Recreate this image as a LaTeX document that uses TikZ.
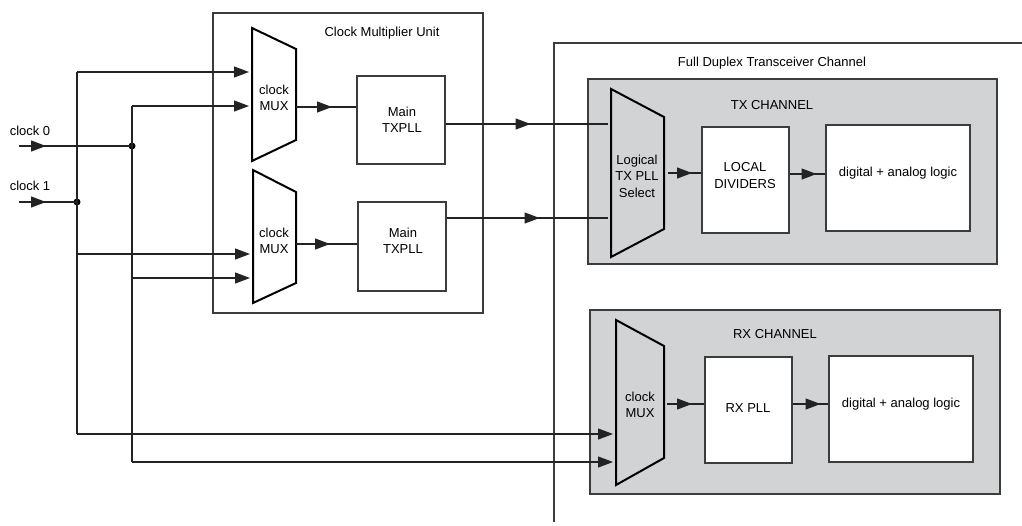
\documentclass[tikz,border=0pt]{standalone}
\usepackage{fontspec}
\setmainfont{Liberation Sans}
\usetikzlibrary{arrows.meta,decorations.markings,calc}
\definecolor{chgray}{RGB}{210,211,213}
\definecolor{boxc}{RGB}{60,60,60}
\definecolor{linec}{RGB}{35,35,35}
\tikzset{
  tip/.tip={Triangle[length=15pt,width=11pt]},
  box/.style={draw=boxc,line width=1.1pt,fill=white,inner sep=0pt,align=center},
  chan/.style={draw=boxc,line width=1.1pt,fill=chgray},
  muxshape/.style={draw=black,line width=2pt,line join=miter},
  lbl/.style={font=\fontsize{13}{16.5}\selectfont,align=center,inner sep=0pt},
  wire/.style={draw=linec,line width=1.2pt},
  arr/.style={wire,-{tip}},
  midarr/.style={wire,postaction={decorate},decoration={markings,mark=at position #1 with {\arrow{tip}}}},
  jdot/.style={circle,fill=black,inner sep=0pt,minimum size=7pt},
}
\begin{document}
\begin{tikzpicture}[x=1pt,y=-1pt]
\useasboundingbox (0,0) rectangle (1022,525);
\fill[white] (0,0) rectangle (1022,525);

% outer frames
\node[draw=boxc,line width=1.1pt,minimum width=270pt,minimum height=300pt,inner sep=0pt] (cmu) at (348,163) {};
\node[lbl] (cmut) at (382,33) {Clock Multiplier Unit};
\coordinate (fdtl) at (554,522);
\coordinate (fdtc) at (554,43);
\coordinate (fdtr) at (1022,43);
\draw[draw=boxc,line width=1.1pt] (fdtl) -- (fdtc) -- (fdtr);
\node[lbl] (fdtt) at (772,63) {Full Duplex Transceiver Channel};

% channels
\node[chan,minimum width=409pt,minimum height=185pt,inner sep=0pt] (txch) at (792.5,171.5) {};
\node[lbl] (txt) at (772,105) {TX CHANNEL};
\node[chan,minimum width=410pt,minimum height=184pt,inner sep=0pt] (rxch) at (795,402) {};
\node[lbl] (rxt) at (775,334) {RX CHANNEL};

% muxes
\draw[muxshape,fill=white] (252,28) -- (296,49) -- (296,140) -- (252,161) -- cycle;
\node[lbl] (m1) at (274,98) {clock\\MUX};
\draw[muxshape,fill=white] (253,170) -- (296,192) -- (296,283) -- (253,303) -- cycle;
\node[lbl] (m2) at (274,241) {clock\\MUX};
\draw[muxshape,fill=chgray] (611,89) -- (664,117) -- (664,229) -- (611,257) -- cycle;
\node[lbl] (sel) at (637,176) {Logical\\TX PLL\\Select};
\draw[muxshape,fill=chgray] (616,320) -- (664,346) -- (664,458) -- (616,485) -- cycle;
\node[lbl] (rxm) at (640,405) {clock\\MUX};

% boxes
\node[box,minimum width=88pt,minimum height=88pt] (pll1) at (401,120) {};
\node[lbl] (pll1t) at (402,120) {Main\\TXPLL};
\node[box,minimum width=88pt,minimum height=89pt] (pll2) at (402,246.5) {};
\node[lbl] (pll2t) at (403,241) {Main\\TXPLL};
\node[box,minimum width=87pt,minimum height=106pt] (div) at (745.5,180) {};
\node[lbl] (divt) at (745,175.5) {LOCAL\\DIVIDERS};
\node[box,minimum width=144pt,minimum height=106pt] (dig1) at (898,178) {};
\node[lbl] (dig1t) at (898,173) {digital + analog logic};
\node[box,minimum width=87pt,minimum height=106pt] (rxpll) at (748.5,410) {};
\node[lbl] (rxpllt) at (748,408) {RX PLL};
\node[box,minimum width=144pt,minimum height=106pt] (dig2) at (901,409) {};
\node[lbl] (dig2t) at (901,404) {digital + analog logic};

% clock inputs
\node[lbl] (c0) at (30,131) {clock 0};
\node[lbl] (c1) at (30,186) {clock 1};
\coordinate (c0s) at (19,146);
\coordinate (c1s) at (19,202);
\node[jdot] (j0) at (132,146) {};
\node[jdot] (j1) at (77,202) {};
\draw[midarr=27pt] (c0s) -- (j0.center);
\draw[midarr=27pt] (c1s) -- (j1.center);

% distribution
\coordinate (a1) at (77,72);
\coordinate (a2) at (77,434);
\coordinate (b1) at (132,106);
\coordinate (b2) at (132,462);
\coordinate (m1i1) at (249,72);
\coordinate (m1i2) at (249,106);
\coordinate (m2i1) at (250,254);
\coordinate (m2i2) at (250,278);
\coordinate (rxi1) at (613,434);
\coordinate (rxi2) at (613,462);
\draw[wire] (a1) -- (a2);
\draw[wire] (b1) -- (b2);
\draw[arr] (a1) -- (m1i1);
\draw[arr] (b1) -- (m1i2);
\draw[arr] (77,254) -- (m2i1);
\draw[arr] (132,278) -- (m2i2);
\draw[arr] (a2) -- (rxi1);
\draw[arr] (b2) -- (rxi2);

% mux -> pll
\draw[midarr=36pt] (296,107) -- (pll1.west |- 0,107);
\draw[midarr=34pt] (296,244) -- (pll2.west |- 0,244);

% pll -> select
\draw[midarr=85pt] (pll1.east |- 0,124) -- (608,124);
\draw[midarr=93pt] (pll2.east |- 0,218) -- (608,218);

% tx chain
\draw[midarr=24pt] (668,173) -- (div.west |- 0,173);
\draw[midarr=27pt] (div.east |- 0,174) -- (dig1.west |- 0,174);
% rx chain
\draw[midarr=25pt] (667,404) -- (rxpll.west |- 0,404);
\draw[midarr=28pt] (rxpll.east |- 0,404) -- (dig2.west |- 0,404);
\end{tikzpicture}
\end{document}
